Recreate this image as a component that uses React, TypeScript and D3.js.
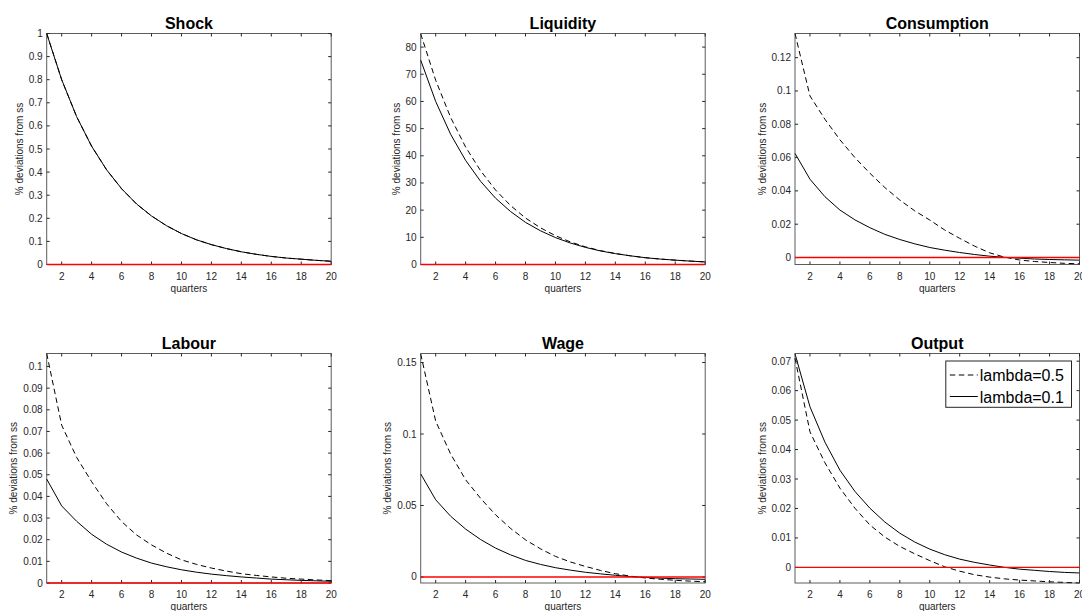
import React from "react";
import * as d3 from "d3";

const quarters = [1, 2, 3, 4, 5, 6, 7, 8, 9, 10, 11, 12, 13, 14, 15, 16, 17, 18, 19, 20];
const xTicks = [2, 4, 6, 8, 10, 12, 14, 16, 18, 20];

const titles = ["Shock", "Liquidity", "Consumption", "Labour", "Wage", "Output"];
const legendLabels = ["lambda=0.5", "lambda=0.1"];

// lambda = 0.5 (dashed)
const shockHigh = [1, 0.8, 0.64, 0.512, 0.41, 0.328, 0.262, 0.21, 0.168, 0.134, 0.107, 0.086, 0.069, 0.055, 0.044, 0.035, 0.028, 0.023, 0.018, 0.014];
const liquidityHigh = [84.9, 67.8, 54.1, 43.2, 34.5, 27.4, 21.7, 17.1, 13.5, 10.6, 8.3, 6.5, 5.1, 4.05, 3.2, 2.5, 2.0, 1.6, 1.25, 0.95];
const consumptionHigh = [0.1345, 0.097, 0.083, 0.0707, 0.06, 0.0506, 0.042, 0.0345, 0.028, 0.0225, 0.0165, 0.0115, 0.0068, 0.0028, 0.0002, -0.0015, -0.0024, -0.003, -0.0035, -0.0038];
const labourHigh = [0.106, 0.0729, 0.058, 0.0468, 0.0366, 0.0284, 0.0222, 0.0176, 0.0138, 0.0107, 0.0086, 0.0069, 0.0055, 0.0043, 0.0035, 0.0028, 0.0022, 0.0018, 0.0014, 0.0011];
const wageHigh = [0.156, 0.109, 0.086, 0.068, 0.055, 0.0435, 0.034, 0.026, 0.0197, 0.0144, 0.0105, 0.0074, 0.0046, 0.0023, 0.0006, -0.0007, -0.0016, -0.0023, -0.0029, -0.0033];
const outputHigh = [0.071, 0.046, 0.0355, 0.0269, 0.0201, 0.0144, 0.0103, 0.0071, 0.0046, 0.0023, 0.0002, -0.0013, -0.0025, -0.0033, -0.0039, -0.0043, -0.0046, -0.0049, -0.0051, -0.0053];

// lambda = 0.1 (solid)
const shockLow = [1, 0.8, 0.64, 0.512, 0.41, 0.328, 0.262, 0.21, 0.168, 0.134, 0.107, 0.086, 0.069, 0.055, 0.044, 0.035, 0.028, 0.023, 0.018, 0.014];
const liquidityLow = [75.2, 60, 47.9, 38.3, 30.6, 24.4, 19.5, 15.5, 12.4, 9.9, 7.9, 6.3, 5.0, 4.0, 3.2, 2.5, 2.0, 1.6, 1.25, 0.95];
const consumptionLow = [0.0625, 0.047, 0.0365, 0.0285, 0.0226, 0.0179, 0.0139, 0.0108, 0.0082, 0.006, 0.0044, 0.003, 0.0018, 0.0008, 0.0001, -0.0004, -0.0009, -0.0012, -0.0014, -0.0016];
const labourLow = [0.048, 0.0356, 0.0285, 0.0225, 0.0179, 0.0143, 0.0115, 0.0092, 0.0075, 0.0061, 0.005, 0.0041, 0.0034, 0.0028, 0.0023, 0.0018, 0.0015, 0.0012, 0.001, 0.0008];
const wageLow = [0.0721, 0.054, 0.0425, 0.0335, 0.0262, 0.0202, 0.0155, 0.0116, 0.0088, 0.0065, 0.0048, 0.0033, 0.0022, 0.0012, 0.0003, -0.0003, -0.0008, -0.0012, -0.0014, -0.0016];
const outputLow = [0.0725, 0.0545, 0.0425, 0.033, 0.0258, 0.0201, 0.0154, 0.0116, 0.0086, 0.0062, 0.0043, 0.0028, 0.0017, 0.0008, 0.0, -0.0006, -0.001, -0.0014, -0.0017, -0.0019];

const yDomains = [
  [0, 1],
  [0, 85],
  [-0.0042, 0.1345],
  [0, 0.106],
  [-0.0042, 0.1563],
  [-0.0053, 0.0726],
];
const yTicksList = [
  [0, 0.1, 0.2, 0.3, 0.4, 0.5, 0.6, 0.7, 0.8, 0.9, 1],
  [0, 10, 20, 30, 40, 50, 60, 70, 80],
  [0, 0.02, 0.04, 0.06, 0.08, 0.1, 0.12],
  [0, 0.01, 0.02, 0.03, 0.04, 0.05, 0.06, 0.07, 0.08, 0.09, 0.1],
  [0, 0.05, 0.1, 0.15],
  [0, 0.01, 0.02, 0.03, 0.04, 0.05, 0.06, 0.07],
];
const highSeries = [shockHigh, liquidityHigh, consumptionHigh, labourHigh, wageHigh, outputHigh];
const lowSeries = [shockLow, liquidityLow, consumptionLow, labourLow, wageLow, outputLow];

const FONT = "'Liberation Sans', Arial, Helvetica, sans-serif";
const AXC = "#262626";

const colLefts = [46.7, 420.7, 795];
const rowTops = [33.5, 353.5];
const rowHeights = [231, 229.5];
const plotW = 284.5;

function textWidth(s: string, fs: number) {
  let w = 0;
  for (const c of s) w += c === "." ? 0.278 : c === "-" ? 0.333 : 0.556;
  return w * fs;
}

function Panel({ idx }: { idx: number }) {
  const col = idx % 3;
  const row = Math.floor(idx / 3);
  const left = colLefts[col];
  const top = rowTops[row];
  const h = rowHeights[row];
  const x = d3.scaleLinear().domain([1, 20]).range([left, left + plotW]);
  const y = d3.scaleLinear().domain(yDomains[idx]).range([top + h, top]);
  const line = d3
    .line<number>()
    .x((_, i) => x(quarters[i]))
    .y((d) => y(d));
  const yTicks = yTicksList[idx];
  const fmt = (v: number) => String(+v.toFixed(4));
  const tickFs = 10;
  const maxW = d3.max(yTicks, (t) => textWidth(fmt(t), tickFs)) as number;
  const tl = 3;
  const bottom = top + h;
  const right = left + plotW;
  const isLegend = idx === 5;
  const lgRight = right - 8;
  const lgLeft = lgRight - 125.7;
  const lgTop = top + 7.5;
  const lgBottom = lgTop + 46.3;
  return (
    <g>
      <rect x={left} y={top} width={plotW} height={h} fill="#fff" />
      <path d={line(highSeries[idx]) || ""} fill="none" stroke="#000" strokeWidth={1} strokeDasharray="5.5,3.5" />
      <path d={line(lowSeries[idx]) || ""} fill="none" stroke="#000" strokeWidth={1} />
      {/* frame */}
      <rect x={left} y={top} width={plotW} height={h} fill="none" stroke={AXC} strokeWidth={1} opacity={0.75} />
      {xTicks.map((t) => (
        <g key={"x" + t}>
          <line x1={x(t)} x2={x(t)} y1={bottom} y2={bottom - tl} stroke={AXC} strokeWidth={1} />
          <line x1={x(t)} x2={x(t)} y1={top} y2={top + tl} stroke={AXC} strokeWidth={1} />
          <text x={x(t)} y={bottom + 15} textAnchor="middle" fontSize={tickFs} fill={AXC} fontFamily={FONT}>
            {t}
          </text>
        </g>
      ))}
      {yTicks.map((t) => (
        <g key={"y" + t}>
          <line x1={left} x2={left + tl} y1={y(t)} y2={y(t)} stroke={AXC} strokeWidth={1} />
          <line x1={right} x2={right - tl} y1={y(t)} y2={y(t)} stroke={AXC} strokeWidth={1} />
          <text x={left - 4} y={y(t) + 3.5} textAnchor="end" fontSize={tickFs} fill={AXC} fontFamily={FONT}>
            {fmt(t)}
          </text>
        </g>
      ))}
      <line x1={x(1)} x2={x(20)} y1={y(0)} y2={y(0)} stroke="#ff0000" strokeWidth={1.3} />
      <text x={left + plotW / 2} y={bottom + 27} textAnchor="middle" fontSize={tickFs} fill={AXC} fontFamily={FONT}>
        quarters
      </text>
      <text
        transform={`translate(${left - 4 - maxW - 6},${top + h / 2}) rotate(-90)`}
        textAnchor="middle"
        fontSize={tickFs}
        fill={AXC}
        fontFamily={FONT}
      >
        % deviations from ss
      </text>
      <text x={left + plotW / 2} y={top - 5} textAnchor="middle" fontSize={16} fontWeight="bold" fill="#000" fontFamily={FONT}>
        {titles[idx]}
      </text>
      {isLegend && (
        <g>
          <rect x={lgLeft} y={lgTop} width={lgRight - lgLeft} height={lgBottom - lgTop} fill="#fff" stroke={AXC} strokeWidth={1} />
          <line x1={lgLeft + 4} x2={lgLeft + 32} y1={lgTop + 14} y2={lgTop + 14} stroke="#000" strokeWidth={1} strokeDasharray="5.5,3.5" />
          <text x={lgLeft + 34} y={lgTop + 20} fontSize={16} fill="#000" fontFamily={FONT}>
            {legendLabels[0]}
          </text>
          <line x1={lgLeft + 4} x2={lgLeft + 32} y1={lgTop + 35.5} y2={lgTop + 35.5} stroke="#000" strokeWidth={1} />
          <text x={lgLeft + 34} y={lgTop + 41.5} fontSize={16} fill="#000" fontFamily={FONT}>
            {legendLabels[1]}
          </text>
        </g>
      )}
    </g>
  );
}

export default function App() {
  return (
    <svg
      width={1082}
      height={611}
      style={{ position: "absolute", left: 0, top: 0, background: "#fff" }}
    >
      <rect width={1082} height={611} fill="#fff" />
      {titles.map((_, i) => (
        <Panel key={i} idx={i} />
      ))}
    </svg>
  );
}
